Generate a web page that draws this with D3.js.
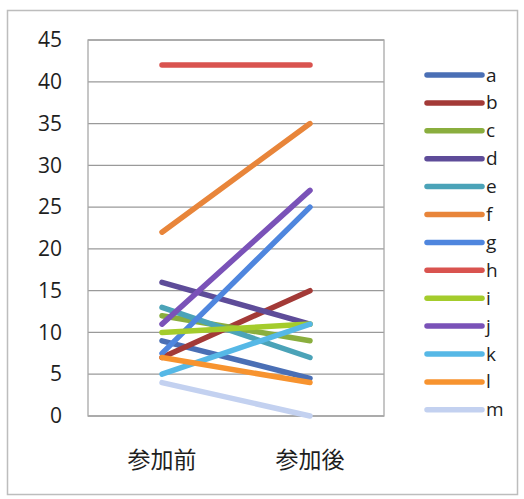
<!DOCTYPE html>
<html>
<head>
<meta charset="utf-8">
<script src="https://cdn.jsdelivr.net/npm/d3@7"></script>
<style>
  body { margin: 0; background: #fff; }
</style>
</head>
<body>
<div class="chart"></div>
<script>
// two survey points, one line per person
const categories = ["参加前", "参加後"];
const names = ["a", "b", "c", "d", "e", "f", "g", "h", "i", "j", "k", "l", "m"];
const before = [9, 7, 12, 16, 13, 22, 7.5, 42, 10, 11, 5, 7, 4];
const after  = [4.5, 15, 9, 11, 7, 35, 25, 42, 11, 27, 11, 4, 0];
const yTicks = [0, 5, 10, 15, 20, 25, 30, 35, 40, 45];
const colors = ["#4a6fb5", "#a33a37", "#8aae3e", "#5e4c99", "#4ba3b8", "#e8853a",
                "#4f86de", "#d9534f", "#a4cc2c", "#7a52b8", "#56b8e6", "#f7932f", "#c3d1f0"];

let svg = d3.select(".chart").append("svg").attr("width", 524).attr("height", 499);

// outer chart frame
svg.append("rect")
    .attr("x", 7.5).attr("y", 10.5).attr("width", 510).attr("height", 484)
    .attr("fill", "#fff").attr("stroke", "#bdbdbd").attr("stroke-width", 1.5);

let margin = {top: 40, left: 88},
    width = 296,
    height = 376,
    g = svg.append("g").attr("transform", "translate(" + margin.left + "," + margin.top + ")");

let x = d3.scaleBand().domain(categories).range([0, width]),
    y = d3.scaleLinear().domain([0, 45]).range([height, 0]);

// gridlines
g.selectAll(".grid")
    .data(yTicks)
    .enter().append("line")
    .attr("x1", 0).attr("x2", width)
    .attr("y1", d => y(d)).attr("y2", d => y(d))
    .attr("stroke", "#9a9a9a").attr("stroke-width", 1.3);

// plot area frame
g.append("rect")
    .attr("width", width).attr("height", height)
    .attr("fill", "none").attr("stroke", "#a8a8a8").attr("stroke-width", 1.3);

g.append("g")
    .call(d3.axisLeft(y).tickValues(yTicks).tickSize(0).tickPadding(26))
    .call(a => a.select(".domain").remove())
    .selectAll("text")
    .style("font", "21px 'Open Sans', sans-serif")
    .attr("fill", "#1e1e1e");

g.append("g")
    .attr("transform", "translate(0," + height + ")")
    .call(d3.axisBottom(x).tickSize(0).tickPadding(36))
    .call(a => a.select(".domain").remove())
    .selectAll("text")
    .style("font", "23px 'Noto Sans CJK JP', sans-serif")
    .attr("fill", "#1e1e1e");

let series = names.map((n, i) => ({
    name: n,
    values: [{cat: categories[0], v: before[i]}, {cat: categories[1], v: after[i]}]
}));

let line = d3.line()
    .x(d => x(d.cat) + x.bandwidth() / 2)
    .y(d => y(d.v));

g.selectAll(".person")
    .data(series)
    .enter().append("path")
    .attr("class", "person")
    .attr("d", d => line(d.values))
    .attr("fill", "none")
    .attr("stroke", (d, i) => colors[i])
    .attr("stroke-width", 5.5)
    .attr("stroke-linecap", "round");

// legend
let legend = svg.append("g").attr("transform", "translate(427,75)");
let item = legend.selectAll(".item")
    .data(names)
    .enter().append("g")
    .attr("transform", (d, i) => "translate(0," + i * 27.9 + ")");

item.append("line")
    .attr("x1", 0).attr("x2", 55)
    .attr("stroke", (d, i) => colors[i])
    .attr("stroke-width", 5.5)
    .attr("stroke-linecap", "round");

item.append("text")
    .attr("x", 59).attr("y", 6.5)
    .style("font", "19px 'Open Sans', sans-serif")
    .attr("fill", "#1e1e1e")
    .text(d => d);
</script>
</body>
</html>
